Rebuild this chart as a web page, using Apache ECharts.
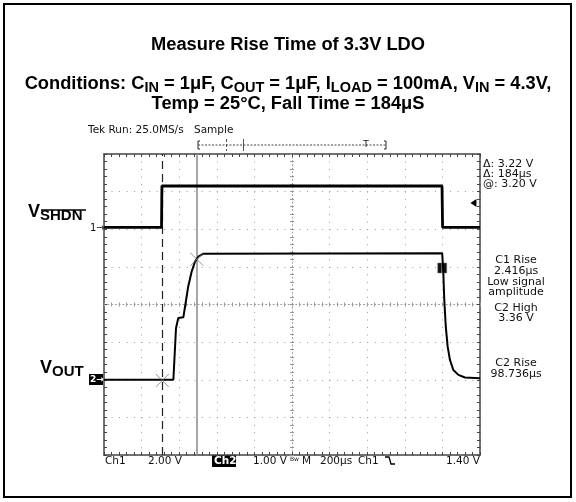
<!DOCTYPE html>
<html><head><meta charset="utf-8">
<script src="https://cdn.jsdelivr.net/npm/echarts@6/dist/echarts.min.js"></script>
<style>html,body{margin:0;padding:0;background:#fff}#c{width:576px;height:502px}</style>
</head><body><div id="c"></div>
<script>
// ---- data (time in µs, voltages in V) ----
const ch1Time  = [0, 306, 308, 1798, 1801, 2000];
const ch1Volts = [0.1, 0.1, 2.3, 2.3, 0.1, 0.1];
const ch2Time  = [0, 369, 383, 395, 422, 431, 448, 466, 484, 502, 528, 1799, 1805, 1810, 1818, 1828, 1840, 1858, 1885, 1920, 2000];
const ch2Volts = [0, 0, 1.37, 1.64, 1.66, 1.94, 2.48, 2.87, 3.14, 3.27, 3.35, 3.36, 2.83, 2.12, 1.41, 0.88, 0.53, 0.26, 0.13, 0.06, 0.04];
const cursorTimes = [310, 494];
const cursorVolts = [-0.02, 3.20];
const trigLevelCh1 = 1.40;
const ch2MeasMark = [1799, 2.97];
const timeRange = [0, 2000], timePerDiv = 200;
const ch1Range = [-12, 4], ch1PerDiv = 2;
const ch2Range = [-2, 6], ch2PerDiv = 1;

const G = {left:104, top:154, width:376, height:301};
const FONT = '"DejaVu Sans", sans-serif';
const HFONT = '"Liberation Sans", Arial, sans-serif';
const gridCol = '#9a9a9a', frameCol = '#444';

function frameAxisX(pos, split){
  return {type:'value', position:pos, min:timeRange[0], max:timeRange[1], interval:timePerDiv,
    axisLine:{show:true, onZero:false, lineStyle:{color:frameCol, width:1.5}},
    axisTick:{show:true, inside:true, length:3, lineStyle:{color:frameCol}},
    minorTick:{show:true, splitNumber:5, length:3, lineStyle:{color:frameCol}},
    axisLabel:{show:false},
    splitLine:{show:split, lineStyle:{color:gridCol, width:1, type:[1,6.52]}},
    minorSplitLine:{show:false}};
}
function centerAxisX(inside){
  return {type:'value', position:'bottom', offset:-150.5, min:timeRange[0], max:timeRange[1], interval:timePerDiv,
    axisLine:{show:inside, onZero:false, lineStyle:{color:gridCol, width:1, type:[1,2.76]}},
    axisTick:{show:true, inside:inside, length:2, lineStyle:{color:gridCol}},
    minorTick:{show:true, splitNumber:5, length:2, lineStyle:{color:gridCol}},
    axisLabel:{show:false}, splitLine:{show:false}};
}
function centerAxisY(inside){
  return {type:'value', position:'left', offset:-188, min:ch2Range[0], max:ch2Range[1], interval:ch2PerDiv,
    axisLine:{show:inside, onZero:false, lineStyle:{color:gridCol, width:1, type:[1,2.76]}},
    axisTick:{show:true, inside:inside, length:2, lineStyle:{color:gridCol}},
    minorTick:{show:true, splitNumber:5, length:2, lineStyle:{color:gridCol}},
    axisLabel:{show:false}, splitLine:{show:false}};
}
function frameAxisY(pos, range, step, split){
  return {type:'value', position:pos, min:range[0], max:range[1], interval:step,
    axisLine:{show:true, onZero:false, lineStyle:{color:frameCol, width:1.5}},
    axisTick:{show:true, inside:true, length:3, lineStyle:{color:frameCol}},
    minorTick:{show:true, splitNumber:5, length:3, lineStyle:{color:frameCol}},
    axisLabel:{show:false},
    splitLine:{show:split, lineStyle:{color:gridCol, width:1, type:[1,6.52]}}};
}

const zip = (a,b)=>a.map((v,i)=>[v,b[i]]);
const xPath = 'path://M0,0L10,10M10,0L0,10';

const chart = echarts.init(document.getElementById('c'), null, {renderer:'canvas'});
const txt = (text, x, y, extra) => ({type:'text', silent:true, style:Object.assign({text, x, y, font:'10.5px '+FONT, fill:'#111', align:'left', verticalAlign:'middle'}, extra||{})});
const rtxt = (text, y) => txt(text, 516, y, {align:'center', font:'11px '+FONT});
const HS = 18.3, SS = 14.5;

const option = {
  animation:false,
  backgroundColor:'#fff',
  grid:G,
  xAxis:[frameAxisX('bottom', true), frameAxisX('top', false), centerAxisX(true), centerAxisX(false)],
  yAxis:[frameAxisY('left', ch2Range, ch2PerDiv, true), frameAxisY('right', ch1Range, ch1PerDiv, false), centerAxisY(true), centerAxisY(false)],
  series:[
    {name:'Ch1', type:'line', xAxisIndex:0, yAxisIndex:1, data:zip(ch1Time, ch1Volts), symbol:'none',
      lineStyle:{color:'#000', width:2.8}, z:5,
      markPoint:{symbol:'path://M0,5L6,0L6,10Z', symbolSize:[6,8], silent:true, label:{show:false},
        itemStyle:{color:'#000'}, data:[{coord:[1965, trigLevelCh1]}]}},
    {name:'Ch2', type:'line', xAxisIndex:0, yAxisIndex:0, data:zip(ch2Time, ch2Volts), symbol:'none',
      lineStyle:{color:'#000', width:2}, z:5,
      markLine:{symbol:['none','none'], silent:true, label:{show:false},
        data:[{xAxis:cursorTimes[0], lineStyle:{color:'#222', width:1.2, type:[8,5]}},
              {xAxis:cursorTimes[1], lineStyle:{color:'#888', width:1.5, type:'solid'}}]},
      markPoint:{symbol:'path://M0,0H4V10H0ZM5,0H9V10H5Z', symbolSize:[9,10], silent:true, label:{show:false},
        itemStyle:{color:'#111', borderColor:'#777', borderWidth:0.5}, data:[{coord:ch2MeasMark}]}},
    {name:'cursor', type:'scatter', xAxisIndex:0, yAxisIndex:0, data:zip(cursorTimes, cursorVolts),
      symbol:xPath, symbolSize:13, itemStyle:{color:'transparent', borderColor:'#777', borderWidth:1}, z:6}
  ],
  graphic:[
    {type:'rect', shape:{x:4, y:4, width:567, height:493}, style:{fill:'none', stroke:'#000', lineWidth:2}, silent:true},
    {type:'text', silent:true, style:{text:'Measure Rise Time of 3.3V LDO', x:288, y:45, align:'center', verticalAlign:'middle',
      font:'bold '+HS+'px '+HFONT, fill:'#000'}},
    {type:'text', silent:true, style:{x:288, y:84, align:'center', verticalAlign:'middle',
      text:'{b|Conditions: C}{s|IN}{b| = 1μF, C}{s|OUT}{b| = 1μF, I}{s|LOAD}{b| = 100mA, V}{s|IN}{b| = 4.3V,}',
      rich:{b:{font:'bold '+HS+'px '+HFONT, fill:'#000'},
            s:{font:'bold '+SS+'px '+HFONT, fill:'#000', padding:[7,0,0,0]}}}},
    {type:'text', silent:true, style:{text:'Temp = 25°C, Fall Time = 184μS', x:288, y:104, align:'center', verticalAlign:'middle',
      font:'bold '+HS+'px '+HFONT, fill:'#000'}},
    // scope header
    txt('Tek Run: 25.0MS/s', 88, 130, {font:'10.5px '+FONT}),
    txt('Sample', 194, 130, {font:'10.5px '+FONT}),
    // record bracket
    {type:'polyline', silent:true, shape:{points:[[200,141],[198,141],[198,149],[200,149]]}, style:{stroke:'#222', lineWidth:1, fill:'none'}},
    {type:'polyline', silent:true, shape:{points:[[384,141],[386,141],[386,149],[384,149]]}, style:{stroke:'#222', lineWidth:1, fill:'none'}},
    {type:'line', silent:true, shape:{x1:198, y1:145, x2:386, y2:145}, style:{stroke:'#444', lineWidth:1, lineDash:[2,1.5]}},
    {type:'line', silent:true, shape:{x1:226.5, y1:139, x2:226.5, y2:151}, style:{stroke:'#555', lineWidth:1, lineDash:[3,2]}},
    {type:'line', silent:true, shape:{x1:243.5, y1:139, x2:243.5, y2:151}, style:{stroke:'#555', lineWidth:1}},
    txt('T', 366, 145, {font:'9px '+FONT, align:'center'}),
    // right panel
    txt('Δ: 3.22 V', 483, 164, {font:'11px '+FONT}),
    txt('Δ: 184μs', 483, 174, {font:'11px '+FONT}),
    txt('@: 3.20 V', 483, 184, {font:'11px '+FONT}),
    rtxt('C1 Rise', 260),
    rtxt('2.416μs', 271),
    rtxt('Low signal', 282),
    rtxt('amplitude', 292),
    rtxt('C2 High', 308),
    rtxt('3.36 V', 318),
    rtxt('C2 Rise', 363),
    rtxt('98.736μs', 374),
    // bottom status
    txt('Ch1', 105, 461),
    txt('2.00 V', 148, 461),
    {type:'rect', silent:true, shape:{x:212, y:455, width:24, height:12}, style:{fill:'#000'}},
    txt('Ch2', 214, 461, {fill:'#fff', font:'bold 10.5px '+FONT}),
    txt('1.00 V', 253, 461),
    txt('Bw', 290, 459, {font:'6px '+FONT}),
    txt('M', 302, 461),
    txt('200μs', 320, 461),
    txt('Ch1', 358, 461),
    {type:'polyline', silent:true, shape:{points:[[385,457],[389,457],[391,464],[395,464]]}, style:{stroke:'#000', lineWidth:1.3, fill:'none'}},
    txt('1.40 V', 480, 461, {align:'right'}),
    // channel labels
    {type:'text', silent:true, style:{x:28, y:212, align:'left', verticalAlign:'middle', text:'{v|V}{s|SHDN}',
      rich:{v:{font:'bold 18px '+HFONT, fill:'#000'},
            s:{font:'bold 15px '+HFONT, fill:'#000', padding:[8,0,0,0]}}}},
    {type:'line', silent:true, shape:{x1:41, y1:210, x2:86, y2:210}, style:{stroke:'#000', lineWidth:1.3}},
    {type:'text', silent:true, style:{x:40, y:368, align:'left', verticalAlign:'middle', text:'{v|V}{s|OUT}',
      rich:{v:{font:'bold 18px '+HFONT, fill:'#000'},
            s:{font:'bold 15px '+HFONT, fill:'#000', padding:[8,0,0,0]}}}},
    txt('1→', 90, 228, {font:'10px '+FONT}),
    {type:'rect', silent:true, shape:{x:89, y:374, width:14, height:11}, style:{fill:'#000'}},
    txt('2→', 90, 380, {font:'bold 9px '+FONT, fill:'#fff'})
  ]
};
chart.setOption(option);
</script></body></html>
